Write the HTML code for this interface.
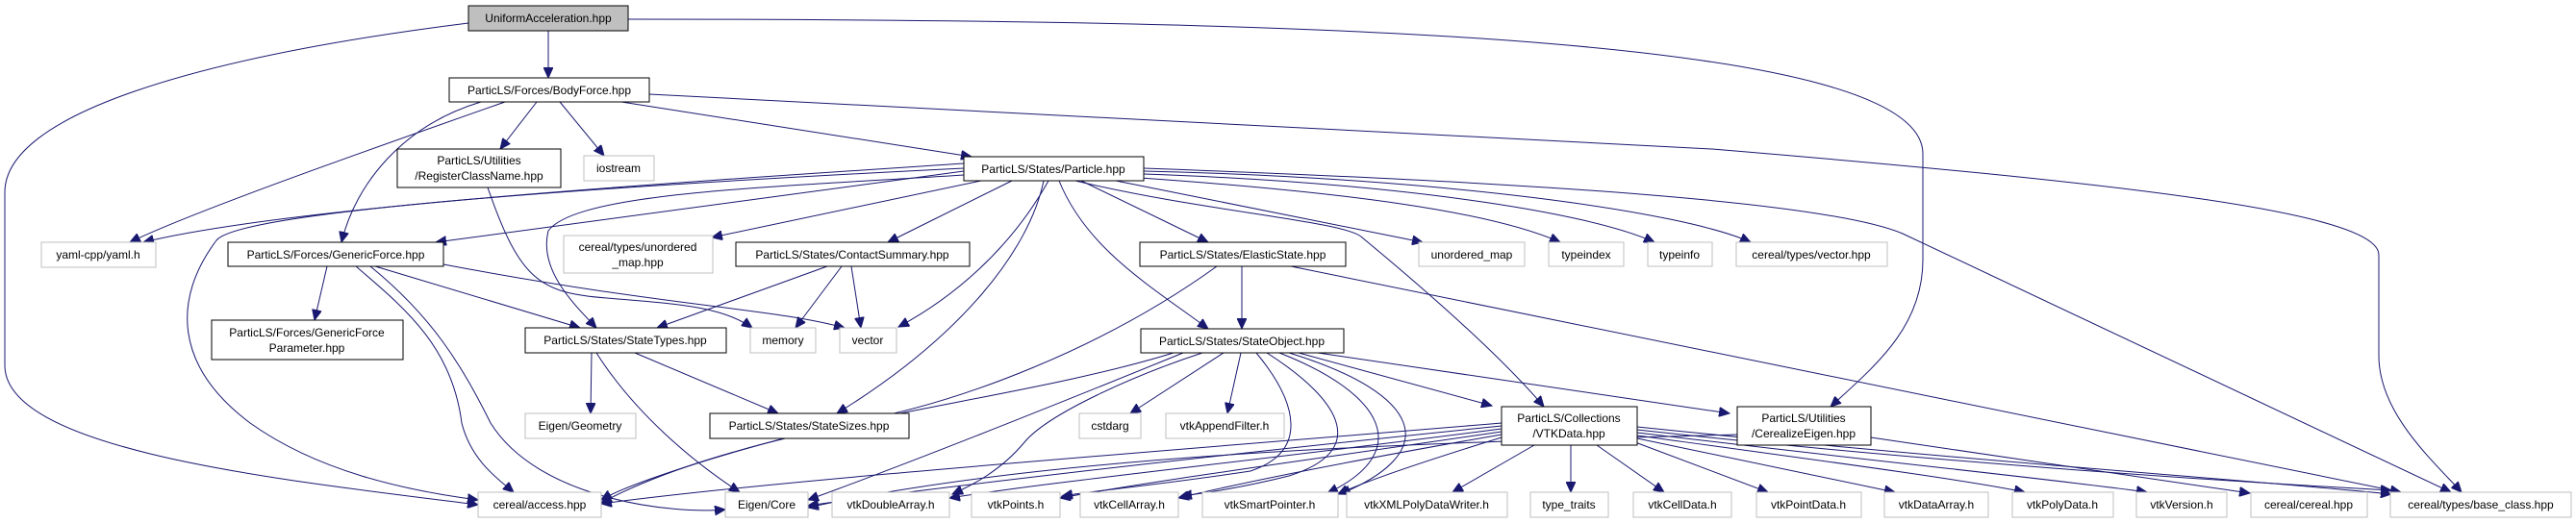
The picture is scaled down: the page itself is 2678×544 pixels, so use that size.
<!DOCTYPE html>
<html><head><meta charset="utf-8"><style>
html,body{margin:0;padding:0;background:#fff;width:2678px;height:544px;overflow:hidden}
svg{display:block}
text{font-family:"Liberation Sans",sans-serif;font-size:12px;fill:#000;text-anchor:middle}
.n{fill:#fff;stroke:#000;stroke-width:1}
.g{fill:#fff;stroke:#bfbfbf;stroke-width:1}
.e{fill:none;stroke:#191970;stroke-width:1}
</style></head><body>
<svg width="2678" height="544" viewBox="0 0 2678 544" xmlns="http://www.w3.org/2000/svg">
<defs><marker id="a" markerUnits="userSpaceOnUse" markerWidth="12" markerHeight="10" refX="11" refY="5" orient="auto"><path d="M0,0 L11,5 L0,10 Z" fill="#191970" stroke="#191970"/></marker></defs>
<g class="e" marker-end="url(#a)">
<path d="M570,32 L570,81"/>
<path d="M487,24 C200,60 5,120 5,200 L5,380 C5,470 300,500 497,525"/>
<path d="M653,20 C1400,20 1999,40 1999,160 L1999,270 C1999,340 1950,380 1903,423"/>
<path d="M558,106 L520,155"/>
<path d="M582,106 L628,162"/>
<path d="M500,106 C420,130 370,190 355,252"/>
<path d="M525,106 C400,150 200,220 135,252"/>
<path d="M646,106 L1010,163"/>
<path d="M675,98 L1780,155 C2200,190 2473,220 2473,265 L2473,370 C2473,430 2530,480 2559,512"/>
<path d="M507,195 C540,290 560,305 631,310 C700,316 750,318 782,341"/>
<path d="M340,277 L327,333"/>
<path d="M390,277 L603,341"/>
<path d="M370,277 C420,320 470,360 480,440 C490,480 520,500 534,512"/>
<path d="M385,277 C450,330 480,380 510,440 C560,520 700,535 754,530"/>
<path d="M461,275 C700,320 800,320 878,341"/>
<path d="M1002,170 C700,190 300,215 149,252"/>
<path d="M1002,175 C600,195 250,220 225,250 C180,310 180,380 260,440 C330,490 420,510 497,520"/>
<path d="M1002,178 L453,252"/>
<path d="M1020,188 L740,247"/>
<path d="M1052,188 L923,252"/>
<path d="M1002,182 C800,195 600,200 570,240 C560,280 595,315 620,341"/>
<path d="M1090,188 C1050,260 990,310 934,340"/>
<path d="M1085,188 C1070,260 1000,350 870,430"/>
<path d="M1101,188 C1130,260 1200,300 1256,342"/>
<path d="M1124,188 L1256,252"/>
<path d="M1160,188 L1479,252"/>
<path d="M1185,185 C1400,200 1550,220 1622,252"/>
<path d="M1189,181 C1450,190 1650,220 1720,252"/>
<path d="M1189,178 C1500,185 1750,220 1820,252"/>
<path d="M1189,175 C1600,190 1900,210 1978,243 L2548,512"/>
<path d="M1118,188 C1250,220 1400,230 1416,247 C1480,300 1560,370 1605,423"/>
<path d="M860,277 L683,341"/>
<path d="M875,277 L827,341"/>
<path d="M885,277 L895,341"/>
<path d="M1291,277 L1291,342"/>
<path d="M1265,277 C1150,360 1000,420 880,440 C750,470 650,505 625,520"/>
<path d="M1342,277 L2496,512"/>
<path d="M615,367 L614,430"/>
<path d="M620,367 C660,430 720,480 769,512"/>
<path d="M660,367 L809,430"/>
<path d="M1220,367 C1050,420 780,440 625,523"/>
<path d="M1230,367 C1100,420 950,480 840,520"/>
<path d="M1272,367 L1175,430"/>
<path d="M1290,367 L1276,430"/>
<path d="M1250,367 C1180,390 1090,430 1065,460 C1040,490 1010,505 990,514"/>
<path d="M1306,367 C1350,420 1360,470 1300,490 C1200,505 1140,510 1104,516"/>
<path d="M1317,367 C1400,420 1420,470 1340,495 C1300,505 1260,512 1228,516"/>
<path d="M1330,367 C1440,410 1470,470 1380,513"/>
<path d="M1340,367 C1480,410 1500,470 1393,514"/>
<path d="M1350,367 L1551,422"/>
<path d="M1370,367 L1798,430"/>
<path d="M1561,440 C1200,470 800,500 625,524"/>
<path d="M1561,443 C1200,480 950,510 840,526"/>
<path d="M1561,446 C1300,480 1100,500 987,518"/>
<path d="M1561,449 C1350,480 1200,500 1102,518"/>
<path d="M1561,452 C1400,480 1300,500 1225,518"/>
<path d="M1561,455 C1480,480 1420,500 1391,514"/>
<path d="M1595,463 L1510,512"/>
<path d="M1633,463 L1633,512"/>
<path d="M1660,463 L1730,512"/>
<path d="M1700,460 L1838,512"/>
<path d="M1702,456 L1970,512"/>
<path d="M1702,453 C1900,480 2050,500 2105,512"/>
<path d="M1702,450 C1950,480 2150,500 2232,512"/>
<path d="M1702,447 C2000,480 2300,500 2486,510"/>
<path d="M1702,444 C2050,480 2350,500 2486,514"/>
<path d="M1945,455 L2339,513"/>
<path d="M1806,452 C1500,460 1100,470 840,528"/>
</g>
<rect x="487" y="6" width="166" height="26" fill="#bfbfbf" stroke="#000"/><text x="570" y="23">UniformAcceleration.hpp</text>
<rect class="n" x="467" y="81" width="208" height="25"/><text x="571" y="98">ParticLS/Forces/BodyForce.hpp</text>
<rect class="n" x="413" y="155" width="170" height="40"/><text x="498" y="171">ParticLS/Utilities</text><text x="498" y="187">/RegisterClassName.hpp</text>
<rect class="g" x="607" y="162" width="73" height="26"/><text x="643" y="179">iostream</text>
<rect class="g" x="43" y="252" width="119" height="26"/><text x="102" y="269">yaml-cpp/yaml.h</text>
<rect class="n" x="237" y="252" width="224" height="25"/><text x="349" y="269">ParticLS/Forces/GenericForce.hpp</text>
<rect class="g" x="586" y="245" width="155" height="39"/><text x="663" y="261">cereal/types/unordered</text><text x="663" y="277">_map.hpp</text>
<rect class="n" x="765" y="252" width="243" height="25"/><text x="886" y="269">ParticLS/States/ContactSummary.hpp</text>
<rect class="n" x="1002" y="163" width="187" height="25"/><text x="1095" y="180">ParticLS/States/Particle.hpp</text>
<rect class="n" x="1185" y="252" width="214" height="25"/><text x="1292" y="269">ParticLS/States/ElasticState.hpp</text>
<rect class="g" x="1475" y="252" width="110" height="25"/><text x="1530" y="269">unordered_map</text>
<rect class="g" x="1610" y="252" width="78" height="25"/><text x="1649" y="269">typeindex</text>
<rect class="g" x="1713" y="252" width="67" height="25"/><text x="1746" y="269">typeinfo</text>
<rect class="g" x="1805" y="252" width="157" height="25"/><text x="1883" y="269">cereal/types/vector.hpp</text>
<rect class="n" x="220" y="333" width="199" height="41"/><text x="319" y="350">ParticLS/Forces/GenericForce</text><text x="319" y="366">Parameter.hpp</text>
<rect class="n" x="546" y="341" width="209" height="26"/><text x="650" y="358">ParticLS/States/StateTypes.hpp</text>
<rect class="g" x="780" y="341" width="68" height="26"/><text x="814" y="358">memory</text>
<rect class="g" x="873" y="341" width="59" height="26"/><text x="902" y="358">vector</text>
<rect class="n" x="1186" y="342" width="211" height="25"/><text x="1291" y="359">ParticLS/States/StateObject.hpp</text>
<rect class="g" x="546" y="430" width="115" height="26"/><text x="603" y="447">Eigen/Geometry</text>
<rect class="n" x="738" y="430" width="207" height="26"/><text x="841" y="447">ParticLS/States/StateSizes.hpp</text>
<rect class="g" x="1122" y="430" width="64" height="26"/><text x="1154" y="447">cstdarg</text>
<rect class="g" x="1212" y="430" width="123" height="26"/><text x="1273" y="447">vtkAppendFilter.h</text>
<rect class="n" x="1561" y="423" width="141" height="40"/><text x="1631" y="439">ParticLS/Collections</text><text x="1631" y="455">/VTKData.hpp</text>
<rect class="n" x="1806" y="423" width="139" height="40"/><text x="1875" y="439">ParticLS/Utilities</text><text x="1875" y="455">/CerealizeEigen.hpp</text>
<g>
<rect class="g" x="497" y="512" width="128" height="26"/><text x="561" y="529">cereal/access.hpp</text>
<rect class="g" x="754" y="512" width="86" height="26"/><text x="797" y="529">Eigen/Core</text>
<rect class="g" x="865" y="512" width="122" height="26"/><text x="926" y="529">vtkDoubleArray.h</text>
<rect class="g" x="1010" y="512" width="92" height="26"/><text x="1056" y="529">vtkPoints.h</text>
<rect class="g" x="1123" y="512" width="102" height="26"/><text x="1174" y="529">vtkCellArray.h</text>
<rect class="g" x="1250" y="512" width="141" height="26"/><text x="1320" y="529">vtkSmartPointer.h</text>
<rect class="g" x="1400" y="512" width="167" height="26"/><text x="1483" y="529">vtkXMLPolyDataWriter.h</text>
<rect class="g" x="1591" y="512" width="81" height="26"/><text x="1631" y="529">type_traits</text>
<rect class="g" x="1698" y="512" width="102" height="26"/><text x="1749" y="529">vtkCellData.h</text>
<rect class="g" x="1826" y="512" width="109" height="26"/><text x="1880" y="529">vtkPointData.h</text>
<rect class="g" x="1959" y="512" width="108" height="26"/><text x="2013" y="529">vtkDataArray.h</text>
<rect class="g" x="2092" y="512" width="105" height="26"/><text x="2144" y="529">vtkPolyData.h</text>
<rect class="g" x="2221" y="512" width="94" height="26"/><text x="2268" y="529">vtkVersion.h</text>
<rect class="g" x="2340" y="512" width="121" height="26"/><text x="2400" y="529">cereal/cereal.hpp</text>
<rect class="g" x="2485" y="512" width="188" height="26"/><text x="2579" y="529">cereal/types/base_class.hpp</text>
</g>
</svg>
</body></html>
